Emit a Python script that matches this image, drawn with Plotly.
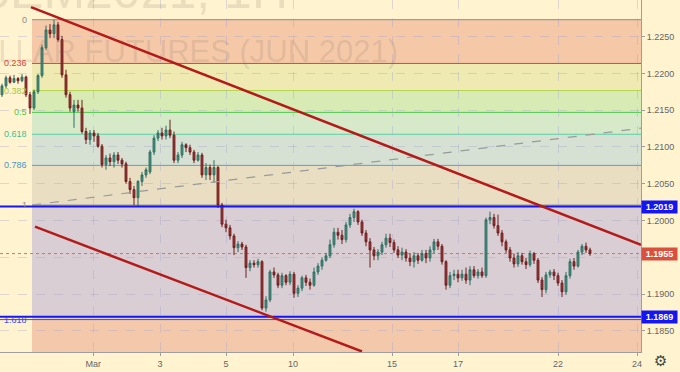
import plotly.graph_objects as go

# ---------------- data ----------------
OPEN = [1.2171, 1.2183, 1.2194, 1.2188, 1.2193, 1.2190, 1.2195, 1.2171, 1.2153, 1.2175,
        1.2197, 1.2235, 1.2259, 1.2254, 1.2266, 1.2246, 1.2198, 1.2171, 1.2148, 1.2157,
        1.2153, 1.2121, 1.2110, 1.2119, 1.2115, 1.2101, 1.2076, 1.2085, 1.2080, 1.2089,
        1.2082, 1.2077, 1.2053, 1.2042, 1.2031, 1.2053, 1.2062, 1.2066, 1.2093, 1.2112,
        1.2119, 1.2115, 1.2123, 1.2116, 1.2082, 1.2089, 1.2103, 1.2099, 1.2093, 1.2082,
        1.2089, 1.2062, 1.2072, 1.2062, 1.2072, 1.2021, 1.1995, 1.1990, 1.1979, 1.1963,
        1.1968, 1.1964, 1.1936, 1.1942, 1.1940, 1.1944, 1.1881, 1.1892, 1.1930, 1.1926,
        1.1912, 1.1925, 1.1916, 1.1927, 1.1901, 1.1908, 1.1922, 1.1916, 1.1912, 1.1930,
        1.1938, 1.1946, 1.1952, 1.1967, 1.1984, 1.1980, 1.1974, 1.1994, 1.2004, 1.2012,
        1.1998, 1.1983, 1.1971, 1.1960, 1.1952, 1.1957, 1.1967, 1.1976, 1.1970, 1.1960,
        1.1953, 1.1957, 1.1949, 1.1944, 1.1952, 1.1946, 1.1955, 1.1949, 1.1960, 1.1971,
        1.1965, 1.1944, 1.1912, 1.1925, 1.1927, 1.1922, 1.1927, 1.1919, 1.1933, 1.1925,
        1.1930, 1.1925, 1.2001, 1.2004, 1.1993, 1.1983, 1.1971, 1.1960, 1.1949, 1.1941,
        1.1952, 1.1944, 1.1940, 1.1955, 1.1946, 1.1919, 1.1906, 1.1926, 1.1930, 1.1925,
        1.1915, 1.1903, 1.1925, 1.1944, 1.1938, 1.1957, 1.1965, 1.1960]
HIGH = [1.2186, 1.2197, 1.2197, 1.2198, 1.2195, 1.2199, 1.2197, 1.2175, 1.2178, 1.2199,
        1.2239, 1.2265, 1.2267, 1.2273, 1.2270, 1.2251, 1.2205, 1.2175, 1.2164, 1.2164,
        1.2164, 1.2126, 1.2123, 1.2123, 1.2119, 1.2104, 1.2089, 1.2091, 1.2093, 1.2093,
        1.2085, 1.2080, 1.2058, 1.2047, 1.2055, 1.2066, 1.2072, 1.2096, 1.2116, 1.2123,
        1.2126, 1.2129, 1.2137, 1.2121, 1.2093, 1.2107, 1.2105, 1.2103, 1.2096, 1.2093,
        1.2092, 1.2078, 1.2076, 1.2082, 1.2074, 1.2024, 1.2001, 1.1994, 1.1982, 1.1972,
        1.1971, 1.1967, 1.1946, 1.1946, 1.1948, 1.1946, 1.1897, 1.1933, 1.1936, 1.1929,
        1.1929, 1.1927, 1.1931, 1.1930, 1.1912, 1.1925, 1.1926, 1.1921, 1.1936, 1.1942,
        1.1950, 1.1956, 1.1974, 1.1990, 1.1990, 1.1987, 1.1998, 1.2009, 1.2016, 1.2014,
        1.2001, 1.1987, 1.1976, 1.1964, 1.1961, 1.1971, 1.1982, 1.1982, 1.1974, 1.1965,
        1.1963, 1.1961, 1.1955, 1.1957, 1.1956, 1.1960, 1.1960, 1.1965, 1.1975, 1.1975,
        1.1968, 1.1946, 1.1930, 1.1933, 1.1933, 1.1933, 1.1936, 1.1938, 1.1938, 1.1934,
        1.1936, 1.2004, 1.2012, 1.2009, 1.2008, 1.1987, 1.1974, 1.1964, 1.1955, 1.1957,
        1.1956, 1.1949, 1.1959, 1.1957, 1.1949, 1.1923, 1.1930, 1.1933, 1.1934, 1.1929,
        1.1919, 1.1930, 1.1948, 1.1949, 1.1960, 1.1968, 1.1970, 1.1963]
LOW = [1.2168, 1.2180, 1.2186, 1.2187, 1.2186, 1.2188, 1.2168, 1.2145, 1.2150, 1.2172,
       1.2194, 1.2232, 1.2248, 1.2248, 1.2243, 1.2194, 1.2167, 1.2148, 1.2126, 1.2148,
       1.2118, 1.2104, 1.2103, 1.2107, 1.2099, 1.2072, 1.2069, 1.2074, 1.2072, 1.2077,
       1.2072, 1.2050, 1.2036, 1.2021, 1.2020, 1.2047, 1.2058, 1.2063, 1.2089, 1.2108,
       1.2110, 1.2110, 1.2112, 1.2078, 1.2078, 1.2085, 1.2093, 1.2089, 1.2078, 1.2080,
       1.2058, 1.2055, 1.2055, 1.2051, 1.2017, 1.1991, 1.1984, 1.1974, 1.1953, 1.1957,
       1.1960, 1.1922, 1.1931, 1.1936, 1.1936, 1.1878, 1.1876, 1.1889, 1.1922, 1.1908,
       1.1908, 1.1912, 1.1912, 1.1895, 1.1896, 1.1904, 1.1911, 1.1906, 1.1910, 1.1926,
       1.1933, 1.1944, 1.1949, 1.1963, 1.1974, 1.1968, 1.1970, 1.1990, 1.1998, 1.1994,
       1.1979, 1.1965, 1.1936, 1.1946, 1.1946, 1.1953, 1.1963, 1.1964, 1.1956, 1.1949,
       1.1946, 1.1944, 1.1938, 1.1936, 1.1941, 1.1944, 1.1942, 1.1944, 1.1955, 1.1960,
       1.1940, 1.1906, 1.1908, 1.1919, 1.1916, 1.1918, 1.1914, 1.1912, 1.1922, 1.1921,
       1.1922, 1.1922, 1.1995, 1.1989, 1.1979, 1.1965, 1.1956, 1.1944, 1.1936, 1.1937,
       1.1940, 1.1934, 1.1937, 1.1941, 1.1915, 1.1896, 1.1901, 1.1922, 1.1919, 1.1911,
       1.1896, 1.1899, 1.1921, 1.1933, 1.1936, 1.1953, 1.1956, 1.1952]
CLOSE = [1.2183, 1.2194, 1.2188, 1.2193, 1.2190, 1.2195, 1.2171, 1.2153, 1.2175, 1.2197,
         1.2235, 1.2259, 1.2254, 1.2266, 1.2246, 1.2198, 1.2171, 1.2153, 1.2157, 1.2153,
         1.2121, 1.2110, 1.2119, 1.2115, 1.2101, 1.2076, 1.2085, 1.2080, 1.2089, 1.2082,
         1.2077, 1.2053, 1.2042, 1.2031, 1.2053, 1.2062, 1.2069, 1.2093, 1.2112, 1.2119,
         1.2115, 1.2123, 1.2116, 1.2082, 1.2089, 1.2103, 1.2099, 1.2093, 1.2082, 1.2089,
         1.2062, 1.2072, 1.2062, 1.2072, 1.2021, 1.1995, 1.1990, 1.1979, 1.1963, 1.1968,
         1.1964, 1.1936, 1.1942, 1.1940, 1.1944, 1.1881, 1.1892, 1.1930, 1.1926, 1.1912,
         1.1925, 1.1916, 1.1927, 1.1901, 1.1908, 1.1922, 1.1916, 1.1912, 1.1930, 1.1938,
         1.1946, 1.1952, 1.1967, 1.1984, 1.1980, 1.1974, 1.1994, 1.2004, 1.2012, 1.1998,
         1.1983, 1.1971, 1.1960, 1.1952, 1.1957, 1.1967, 1.1976, 1.1970, 1.1960, 1.1953,
         1.1957, 1.1949, 1.1944, 1.1952, 1.1946, 1.1955, 1.1949, 1.1960, 1.1971, 1.1965,
         1.1944, 1.1912, 1.1925, 1.1927, 1.1922, 1.1927, 1.1919, 1.1933, 1.1925, 1.1930,
         1.1925, 1.2001, 1.2004, 1.1993, 1.1983, 1.1971, 1.1960, 1.1949, 1.1941, 1.1952,
         1.1944, 1.1940, 1.1955, 1.1946, 1.1919, 1.1906, 1.1926, 1.1930, 1.1925, 1.1915,
         1.1903, 1.1925, 1.1944, 1.1938, 1.1957, 1.1965, 1.1960, 1.1955]

X_TICK_POS = [23.33, 40, 56.5, 73.25, 98, 114.5, 139.5, 159.25]   # bar index of day labels
X_TICK_TEXT = ["Mar", "3", "5", "10", "15", "17", "22", "24"]
Y_TICKS = [1.1850, 1.1900, 1.1950, 1.2000, 1.2050, 1.2100, 1.2150, 1.2200, 1.2250]
Y_TICK_TEXT = ["1.1850", "1.1900", "", "1.2000", "1.2050", "1.2100", "1.2150", "1.2200", "1.2250"]

FIB_LEVELS = [0, 0.236, 0.382, 0.5, 0.618, 0.786, 1, 1.618]
FIB_LABELS = ["0", "0.236", "0.382", "0.5", "0.618", "0.786", "1", "1.618"]
FIB_PRICE_0 = 1.2273
FIB_PRICE_1 = 1.2021
FIB_START = 8.0

H_LEVELS = [1.2019, 1.1869]
LAST_PRICE = 1.1955

TREND_UPPER = [(7.75, 1.2290), (160.25, 1.19668)]
TREND_LOWER = [(8.75, 1.19916), (90.5, 1.18219)]
TREND_DASHED = [(8.0, 1.20211), (160.25, 1.21255)]

WATERMARK_1 = "6EM2021, 1H"
WATERMARK_2 = "EURO FX / U.S. DOLLAR FUTURES (JUN 2021)"

# ---------------- style ----------------
X_RANGE = [0, 160.25]
Y_RANGE = [1.18212, 1.22998]
BG = "#FFF3D0"
FIB_LINE_COLORS = ["#8C8C8C", "#D9453B", "#B7D454", "#4CCB4C", "#55CFA5", "#5C9FC9", "#8C8C8C", "#3F4FE0"]
FIB_TEXT_COLORS = ["#8C8C8C", "#D9453B", "#A9C83C", "#4CCB4C", "#3FBF95", "#4C94C4", "#8C8C8C", "#3F4FE0"]
FIB_FILLS = ["#F5C8A8", "#EEEAB2", "#D9EBB4", "#D6EAC9", "#D6E1D3", "#EADEC2", "#D8CED3", "#F4C9AB"]


def fib_price(level):
    return FIB_PRICE_0 + (FIB_PRICE_1 - FIB_PRICE_0) * level


x_vals = [i + 0.5 for i in range(len(OPEN))]

fig = go.Figure()

# watermark (drawn first, under the candles)
fig.add_trace(go.Scatter(
    x=[72.0], y=[1.2272], mode="text", text=[WATERMARK_1], textposition="top left",
    textfont=dict(size=50, color="rgba(120,110,95,0.17)", family="Liberation Sans"),
    hoverinfo="skip", showlegend=False))
fig.add_trace(go.Scatter(
    x=[99.5], y=[1.2226], mode="text", text=[WATERMARK_2], textposition="middle left",
    textfont=dict(size=31, color="rgba(120,110,95,0.17)", family="Liberation Sans"),
    hoverinfo="skip", showlegend=False))

fig.add_trace(go.Candlestick(
    x=x_vals, open=OPEN, high=HIGH, low=LOW, close=CLOSE,
    increasing=dict(line=dict(color="#2F6F61", width=1), fillcolor="#3C9281"),
    decreasing=dict(line=dict(color="#6E1E1E", width=1), fillcolor="#A33030"),
    whiskerwidth=0, showlegend=False, hoverinfo="skip"))

shapes = []
# fib bands
bounds = [fib_price(l) for l in FIB_LEVELS] + [Y_RANGE[0]]
for k in range(len(FIB_FILLS)):
    shapes.append(dict(type="rect", xref="x", yref="y", x0=FIB_START, x1=X_RANGE[1],
                       y0=bounds[k], y1=bounds[k + 1], fillcolor=FIB_FILLS[k],
                       line=dict(width=0), layer="below"))
# fib level lines
for lvl, col in zip(FIB_LEVELS, FIB_LINE_COLORS):
    p = fib_price(lvl)
    x0 = 0 if lvl == 1.618 else FIB_START
    shapes.append(dict(type="line", xref="x", yref="y", x0=x0, x1=X_RANGE[1], y0=p, y1=p,
                       line=dict(color=col, width=1), layer="below"))
# last price dotted line
shapes.append(dict(type="line", xref="x", yref="y", x0=X_RANGE[0], x1=X_RANGE[1],
                   y0=LAST_PRICE, y1=LAST_PRICE,
                   line=dict(color="#E06A6A", width=1, dash="dot"), layer="below"))
# dashed trend line
shapes.append(dict(type="line", xref="x", yref="y",
                   x0=TREND_DASHED[0][0], y0=TREND_DASHED[0][1],
                   x1=TREND_DASHED[1][0], y1=TREND_DASHED[1][1],
                   line=dict(color="#9A9A9A", width=1.2, dash="dash"), layer="above"))
# horizontal blue levels
for p in H_LEVELS:
    shapes.append(dict(type="line", xref="x", yref="y", x0=X_RANGE[0], x1=X_RANGE[1],
                       y0=p, y1=p, line=dict(color="#1515F5", width=2), layer="above"))
# red channel lines
for seg in (TREND_UPPER, TREND_LOWER):
    shapes.append(dict(type="line", xref="x", yref="y",
                       x0=seg[0][0], y0=seg[0][1], x1=seg[1][0], y1=seg[1][1],
                       line=dict(color="#B51A1A", width=2.5), layer="above"))

annotations = []
for lvl, lab, col in zip(FIB_LEVELS, FIB_LABELS, FIB_TEXT_COLORS):
    annotations.append(dict(x=7.25, y=fib_price(lvl), xref="x", yref="y", text=lab,
                            showarrow=False, xanchor="right", yanchor="middle",
                            font=dict(size=9, color=col, family="Liberation Sans")))
# right axis price boxes
for p, bg in ((H_LEVELS[0], "#1515F0"), (LAST_PRICE, "#D9503E"), (H_LEVELS[1], "#1515F0")):
    annotations.append(dict(x=1, y=p, xref="paper", yref="y", text="<b>%.4f</b>" % p,
                            showarrow=False, xanchor="left", yanchor="middle",
                            bgcolor=bg, borderpad=1, width=33, height=10,
                            font=dict(size=9, color="white", family="Liberation Sans")))
# gear icon
annotations.append(dict(x=660 / 641, y=-(361 - 352) / 352, xref="paper", yref="paper",
                        text="\u2699", showarrow=False, xanchor="center", yanchor="middle",
                        font=dict(size=15, color="#444444", family="DejaVu Sans")))

axis_font = dict(size=9, color="#666666", family="Liberation Sans")
fig.update_layout(
    width=680, height=372,
    margin=dict(l=0, r=39, t=0, b=20),
    paper_bgcolor=BG, plot_bgcolor=BG,
    showlegend=False, boxgap=0.35,
    shapes=shapes, annotations=annotations,
    xaxis=dict(range=X_RANGE, rangeslider=dict(visible=False), tickmode="array",
               tickvals=X_TICK_POS, ticktext=X_TICK_TEXT, showgrid=True,
               gridcolor="rgba(160,160,200,0.35)", griddash="dash", gridwidth=1,
               showline=True, linecolor="#9E9E9E", linewidth=1, ticks="outside",
               ticklen=3, tickcolor="#9E9E9E", tickfont=axis_font, zeroline=False),
    yaxis=dict(range=Y_RANGE, side="right", tickmode="array", tickvals=Y_TICKS,
               ticktext=Y_TICK_TEXT, showgrid=True, gridcolor="rgba(160,160,200,0.35)",
               griddash="dash", gridwidth=1, showline=True, linecolor="#9E9E9E",
               linewidth=1, ticks="outside", ticklen=3, tickcolor="#9E9E9E",
               tickfont=axis_font, zeroline=False),
)

fig.write_html("out.html")
